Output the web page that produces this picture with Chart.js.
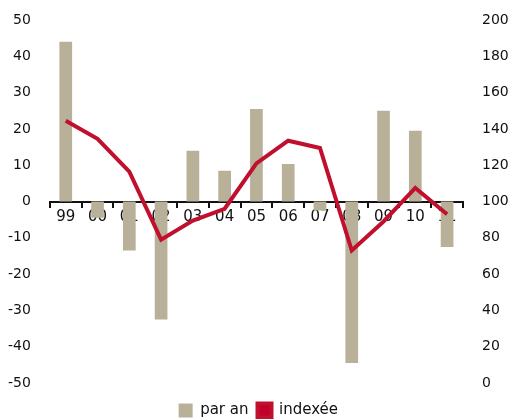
<!DOCTYPE html>
<html>
<head>
<meta charset="utf-8">
<script src="https://cdn.jsdelivr.net/npm/chart.js@4"></script>
<style>
  html, body { margin: 0; padding: 0; background: #fff; }
</style>
</head>
<body>
<canvas id="graf" width="509" height="419"></canvas>
<script>
// ======= DATOS =======
const annees = ["99", "00", "01", "02", "03", "04", "05", "06", "07", "08", "09", "10", "11"];
const parAn = [44, -4.5, -13.5, -32.5, 14, 8.5, 25.5, 10.3, -2.5, -44.5, 25, 19.5, -12.5];
const indexee = [144.5, 134.5, 116.5, 79, 89.5, 96, 121, 133.5, 129.5, 73, 89, 107.5, 93];

const fuente = { family: "DejaVu Sans", size: 14, lineHeight: 1 };
const negro = "#111";

new Chart(document.getElementById("graf").getContext("2d"), {
  data: {
    labels: annees,
    datasets: [
      {
        type: "line",
        label: "indexée",
        data: indexee,
        yAxisID: "y1",
        borderColor: "#c0102e",
        backgroundColor: "#c0002a",
        borderWidth: 4,
        pointRadius: 0,
        tension: 0,
        order: 0
      },
      {
        type: "bar",
        label: "par an",
        data: parAn,
        yAxisID: "y",
        backgroundColor: "#b8b098",
        categoryPercentage: 1,
        barPercentage: 0.4,
        order: 1
      }
    ]
  },
  options: {
    responsive: false,
    animation: false,
    layout: { padding: { top: 20, left: -3, right: -10.7, bottom: -9 } },
    plugins: {
      legend: {
        position: "bottom",
        reverse: true,
        // titulo vacio: solo sirve para bajar la leyenda
        title: { display: true, text: "", font: { size: 1, lineHeight: 1 }, padding: { top: 10, bottom: 0 } },
        labels: {
          color: negro,
          font: { family: "DejaVu Sans", size: 15 },
          boxWidth: 14,
          boxHeight: 14,
          padding: 9
        }
      },
      tooltip: { enabled: false }
    },
    scales: {
      x: {
        position: { y: 0 },
        grid: { display: true, drawOnChartArea: false, drawTicks: true, tickLength: 5, color: negro, lineWidth: 2, offset: true },
        border: { display: true, color: negro, width: 2 },
        ticks: { color: negro, font: { family: "DejaVu Sans", size: 15 }, padding: 2, maxRotation: 0 }
      },
      y: {
        position: "left",
        min: -50, max: 50,
        grid: { display: false },
        border: { display: false },
        ticks: { stepSize: 10, color: negro, font: fuente, padding: 11 }
      },
      y1: {
        position: "right",
        min: 0, max: 200,
        grid: { display: false },
        border: { display: false },
        ticks: { stepSize: 20, color: negro, font: fuente, padding: 11 }
      }
    }
  }
});
</script>
</body>
</html>
